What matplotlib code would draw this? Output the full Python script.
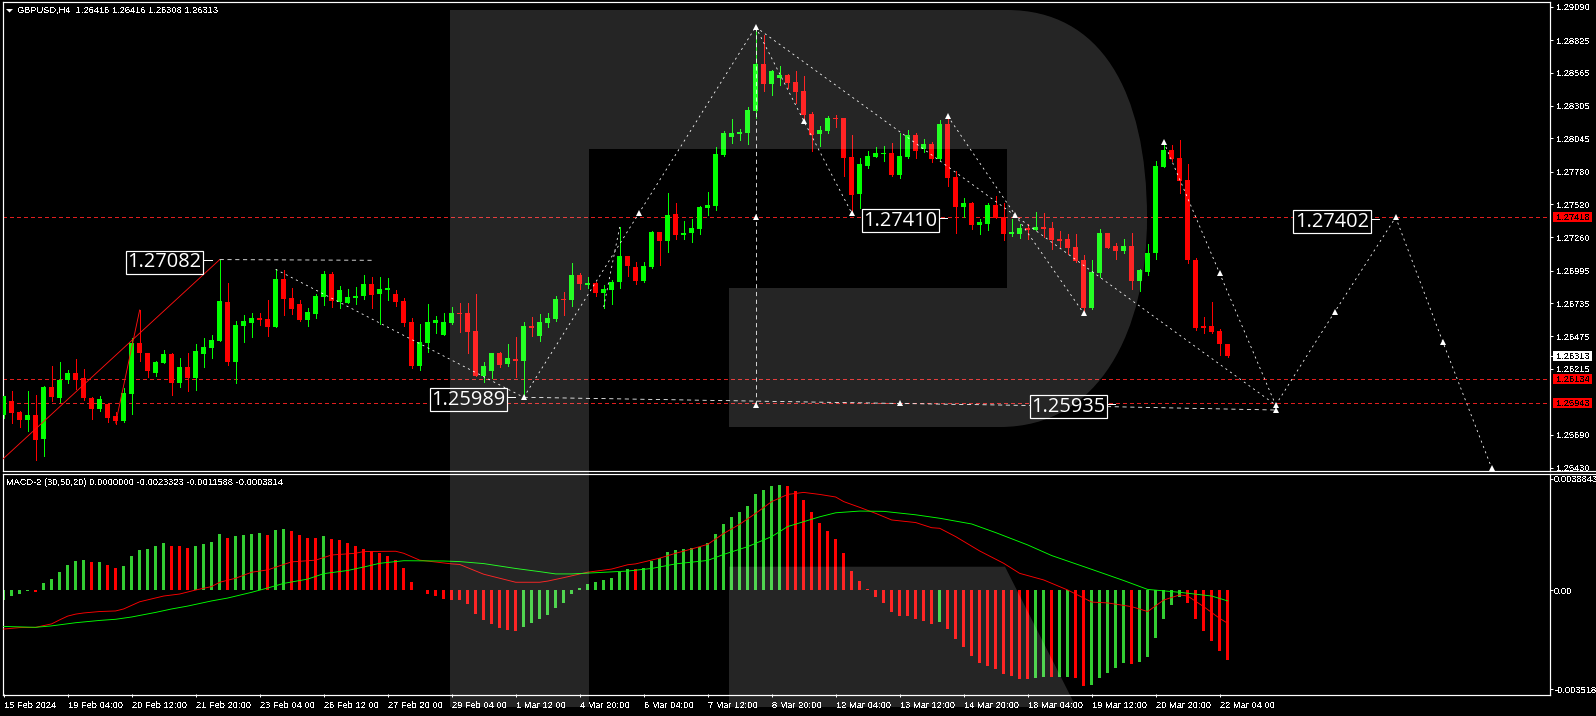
#!/usr/bin/python3
# GBPUSD H4 candles with wave forecast and MACD panel, drawn like a terminal screenshot

import matplotlib
matplotlib.use('Agg')
import matplotlib.pyplot as plt
from matplotlib.patches import PathPatch, Rectangle
from matplotlib.path import Path

opens = [
    1.25846, 1.25958, 1.25870, 1.25806, 1.25846, 1.25655, 1.26069, 1.25981, 1.26124, 1.26180,
    1.26140, 1.25987, 1.25894, 1.25936, 1.25838, 1.25799, 1.26013, 1.26419, 1.26339, 1.26180,
    1.26260, 1.26331, 1.26101, 1.26228, 1.26140, 1.26331, 1.26379, 1.26435, 1.26745, 1.26268,
    1.26554, 1.26578, 1.26617, 1.26609, 1.26546, 1.26927, 1.26776, 1.26729, 1.26601, 1.26649,
    1.26784, 1.26967, 1.26745, 1.26737, 1.26776, 1.26792, 1.26888, 1.26808, 1.26840, 1.26808,
    1.26753, 1.26586, 1.26236, 1.26419, 1.26578, 1.26482, 1.26578, 1.26657, 1.26657, 1.26514,
    1.26156, 1.26196, 1.26339, 1.26252, 1.26295, 1.26281, 1.26552, 1.26472, 1.26576, 1.26607,
    1.26766, 1.26758, 1.26957, 1.26878, 1.26894, 1.26814, 1.26838, 1.26902, 1.27108, 1.27021,
    1.26910, 1.27021, 1.27299, 1.27228, 1.27442, 1.27275, 1.27291, 1.27323, 1.27490, 1.27506,
    1.27911, 1.28054, 1.28078, 1.28086, 1.28261, 1.28635, 1.28476, 1.28523, 1.28547, 1.28492,
    1.28420, 1.28237, 1.28078, 1.28102, 1.28205, 1.28205, 1.27895, 1.27601, 1.27824, 1.27895,
    1.27922, 1.27927, 1.27752, 1.27895, 1.28070, 1.27959, 1.27999, 1.27879, 1.28158, 1.27736,
    1.27498, 1.27530, 1.27355, 1.27363, 1.27514, 1.27418, 1.27283, 1.27283, 1.27332, 1.27316,
    1.27340, 1.27332, 1.27244, 1.27244, 1.27181, 1.27077, 1.26696, 1.26974, 1.27292, 1.27189,
    1.27149, 1.27189, 1.26911, 1.26982, 1.27133, 1.27817, 1.27952, 1.27888, 1.27713, 1.27077,
    1.26553, 1.26553, 1.26513, 1.26416]
closes = [
    1.26000, 1.25862, 1.25806, 1.25846, 1.25647, 1.26069, 1.25989, 1.26130, 1.26180, 1.26127,
    1.25981, 1.25894, 1.25973, 1.25822, 1.25799, 1.26026, 1.26419, 1.26339, 1.26196, 1.26268,
    1.26331, 1.26101, 1.26228, 1.26140, 1.26355, 1.26387, 1.26442, 1.26753, 1.26268, 1.26562,
    1.26594, 1.26617, 1.26601, 1.26546, 1.26927, 1.26768, 1.26689, 1.26601, 1.26665, 1.26792,
    1.26967, 1.26753, 1.26840, 1.26784, 1.26792, 1.26888, 1.26800, 1.26848, 1.26856, 1.26745,
    1.26578, 1.26236, 1.26427, 1.26586, 1.26601, 1.26586, 1.26657, 1.26652, 1.26506, 1.26156,
    1.26236, 1.26339, 1.26244, 1.26299, 1.26281, 1.26552, 1.26536, 1.26584, 1.26615, 1.26766,
    1.26761, 1.26957, 1.26886, 1.26894, 1.26814, 1.26846, 1.26902, 1.27108, 1.27029, 1.26910,
    1.27029, 1.27299, 1.27228, 1.27434, 1.27275, 1.27291, 1.27331, 1.27498, 1.27514, 1.27919,
    1.28086, 1.28086, 1.28094, 1.28269, 1.28635, 1.28476, 1.28579, 1.28547, 1.28484, 1.28412,
    1.28229, 1.28070, 1.28110, 1.28205, 1.28200, 1.27887, 1.27593, 1.27840, 1.27903, 1.27927,
    1.27927, 1.27752, 1.27903, 1.28070, 1.27943, 1.27999, 1.27879, 1.28158, 1.27728, 1.27498,
    1.27530, 1.27355, 1.27379, 1.27514, 1.27410, 1.27283, 1.27299, 1.27331, 1.27319, 1.27340,
    1.27324, 1.27236, 1.27229, 1.27173, 1.27070, 1.26696, 1.26982, 1.27292, 1.27173, 1.27149,
    1.27189, 1.26911, 1.26998, 1.27133, 1.27825, 1.27952, 1.27880, 1.27706, 1.27077, 1.26537,
    1.26537, 1.26505, 1.26410, 1.26313]
highs = [
    1.26000, 1.26037, 1.25881, 1.26037, 1.26005, 1.26077, 1.26236, 1.26268, 1.26204, 1.26291,
    1.26212, 1.25995, 1.25997, 1.25942, 1.25875, 1.26061, 1.26458, 1.26681, 1.26344, 1.26276,
    1.26363, 1.26339, 1.26299, 1.26339, 1.26411, 1.26458, 1.26482, 1.27082, 1.26896, 1.26594,
    1.26641, 1.26657, 1.26657, 1.26760, 1.27007, 1.26999, 1.26856, 1.26760, 1.26697, 1.26808,
    1.26991, 1.26983, 1.26872, 1.26848, 1.26864, 1.26959, 1.26943, 1.26943, 1.26935, 1.26840,
    1.26776, 1.26617, 1.26570, 1.26729, 1.26633, 1.26657, 1.26705, 1.26737, 1.26737, 1.26808,
    1.26268, 1.26339, 1.26347, 1.26411, 1.26464, 1.26584, 1.26623, 1.26647, 1.26655, 1.26790,
    1.26822, 1.27053, 1.26973, 1.26941, 1.26902, 1.26878, 1.26917, 1.27339, 1.27108, 1.27061,
    1.27061, 1.27307, 1.27299, 1.27609, 1.27530, 1.27387, 1.27402, 1.27506, 1.27617, 1.27975,
    1.28102, 1.28197, 1.28118, 1.28293, 1.28929, 1.28865, 1.28587, 1.28619, 1.28555, 1.28579,
    1.28539, 1.28253, 1.28142, 1.28221, 1.28229, 1.28205, 1.28070, 1.27887, 1.27943, 1.27975,
    1.27983, 1.28007, 1.28086, 1.28110, 1.28086, 1.28038, 1.28015, 1.28189, 1.28229, 1.27784,
    1.27569, 1.27538, 1.27402, 1.27530, 1.27585, 1.27530, 1.27402, 1.27363, 1.27364, 1.27459,
    1.27451, 1.27380, 1.27308, 1.27284, 1.27284, 1.27117, 1.27077, 1.27324, 1.27292, 1.27213,
    1.27244, 1.27292, 1.27006, 1.27205, 1.27865, 1.28005, 1.27992, 1.28031, 1.27841, 1.27093,
    1.26624, 1.26744, 1.26529, 1.26416]
lows = [
    1.25825, 1.25783, 1.25751, 1.25719, 1.25488, 1.25520, 1.25958, 1.25950, 1.26101, 1.26053,
    1.25965, 1.25814, 1.25878, 1.25791, 1.25775, 1.25791, 1.25854, 1.26276, 1.26148, 1.26156,
    1.26260, 1.26005, 1.26069, 1.26037, 1.26045, 1.26228, 1.26299, 1.26435, 1.26244, 1.26101,
    1.26427, 1.26466, 1.26562, 1.26474, 1.26546, 1.26641, 1.26649, 1.26594, 1.26554, 1.26617,
    1.26721, 1.26705, 1.26697, 1.26737, 1.26729, 1.26768, 1.26697, 1.26570, 1.26760, 1.26713,
    1.26554, 1.26220, 1.26204, 1.26347, 1.26498, 1.26482, 1.26570, 1.26506, 1.26339, 1.26156,
    1.26109, 1.26140, 1.26228, 1.26236, 1.26154, 1.25989, 1.26472, 1.26433, 1.26544, 1.26592,
    1.26639, 1.26711, 1.26846, 1.26854, 1.26790, 1.26695, 1.26727, 1.26854, 1.26949, 1.26886,
    1.26902, 1.27013, 1.27037, 1.27140, 1.27243, 1.27243, 1.27220, 1.27283, 1.27434, 1.27474,
    1.27903, 1.28007, 1.28030, 1.27999, 1.28205, 1.28420, 1.28388, 1.28468, 1.28444, 1.28325,
    1.28189, 1.27943, 1.27983, 1.28086, 1.28134, 1.27744, 1.27466, 1.27490, 1.27808, 1.27895,
    1.27864, 1.27744, 1.27728, 1.27887, 1.27887, 1.27935, 1.27856, 1.27871, 1.27665, 1.27291,
    1.27418, 1.27323, 1.27283, 1.27315, 1.27410, 1.27235, 1.27267, 1.27251, 1.27244, 1.27316,
    1.27260, 1.27165, 1.27181, 1.27125, 1.27062, 1.26672, 1.26688, 1.26942, 1.27173, 1.27085,
    1.27133, 1.26847, 1.26831, 1.26958, 1.27085, 1.27817, 1.27865, 1.27610, 1.27054, 1.26521,
    1.26497, 1.26497, 1.26322, 1.26308]

# MACD histogram in units of 0.00001, one colour letter per bar
macd_hist = [
    -34, -21, -14, -2, -7, 24, 38, 63, 87, 101,
    104, 98, 98, 87, 77, 84, 118, 139, 143, 153,
    164, 153, 153, 146, 153, 160, 167, 195, 181, 188,
    192, 195, 199, 192, 209, 212, 205, 192, 181, 181,
    188, 178, 174, 164, 153, 143, 136, 129, 118, 104,
    77, 28, -1, -14, -21, -31, -35, -35, -49, -84,
    -104, -118, -132, -139, -143, -129, -115, -101, -87, -63,
    -45, -14, 7, 21, 28, 35, 42, 63, 73, 73,
    77, 101, 111, 132, 139, 143, 146, 150, 164, 195,
    230, 254, 272, 293, 334, 348, 362, 366, 362, 345,
    313, 272, 233, 205, 178, 129, 66, 31, 3, -24,
    -45, -77, -91, -91, -101, -108, -118, -111, -136, -171,
    -199, -230, -254, -265, -275, -293, -300, -310, -310, -307,
    -303, -303, -303, -303, -307, -334, -331, -307, -289, -272,
    -254, -258, -251, -233, -167, -101, -52, -24, -45, -101,
    -143, -178, -212, -244]
hist_colours = ('gggg' 'r' 'gggggg' 'r' 'g' 'rr' 'gggggg' 'rrr' 'gggg' 'r' 'gggg' 'r' 'gg' 'rrrr' 'g'
                + 'r' * 24 + 'g' * 14 + 'r' + 'g' * 18 + 'r' * 19 + 'g' + 'r' * 11
                + 'gg' 'r' 'gg' 'rr' 'ggggg' 'r' 'gggggg' 'rrrrrr')

macd_bars = [0, 2, 4, 6, 7, 8, 9, 10, 12, 14, 15, 17, 20, 22, 24, 26, 27, 29, 31, 33, 35, 36, 39, 41, 44,
             45, 49, 50, 52, 56, 57, 60, 62, 64, 67, 68, 70, 73, 76, 78, 79, 82, 84, 86, 88, 90, 92, 94,
             96, 98, 100, 102, 104, 105, 107, 109, 111, 114, 116, 117, 119, 122, 125, 127, 130, 133,
             136, 138, 141, 143, 145, 147, 148, 150, 152, 153]
macd_line = [-136, -131, -130, -118, -104, -91, -84, -80, -75, -73, -66, -41, -21, -14, 0, 12, 27, 41, 62, 70,
             89, 98, 104, 122, 128, 134, 135, 128, 104, 91, 89, 55, 41, 27, 27, 31, 43, 62, 73, 88, 91, 111,
             128, 143, 159, 197, 229, 267, 308, 333, 340, 333, 324, 308, 288, 267, 244, 235, 217, 215, 186,
             136, 93, 58, 35, 0, -42, -45, -58, -75, -35, -17, -21, -58, -99, -116]
signal_bars = [0, 4, 6, 9, 12, 14, 16, 19, 21, 23, 26, 28, 31, 33, 35, 38, 40, 43, 45, 47, 50, 55, 57, 60,
               64, 67, 69, 71, 78, 81, 84, 88, 90, 93, 96, 98, 102, 104, 107, 110, 114, 117, 121, 124,
               128, 131, 136, 140, 143, 147, 151, 153]
signal_line = [-127, -130, -125, -114, -106, -102, -94, -78, -66, -56, -38, -28, -8, 7, 23, 38, 57, 68, 80, 93,
               102, 101, 99, 92, 75, 64, 56, 56, 66, 75, 91, 103, 124, 151, 186, 221, 255, 269, 275, 274,
               262, 250, 230, 200, 157, 120, 72, 33, 2, -8, -21, -38]

price_ticks = [1.29090, 1.28825, 1.28565, 1.28305, 1.28045, 1.27780, 1.27520, 1.27260, 1.26995,
               1.26735, 1.26475, 1.26215, 1.25690, 1.25430]
date_labels = ['15 Feb 2024', '19 Feb 04:00', '20 Feb 12:00', '21 Feb 20:00', '23 Feb 04:00', '26 Feb 12:00',
               '27 Feb 20:00', '29 Feb 04:00', '1 Mar 12:00', '4 Mar 20:00', '6 Mar 04:00', '7 Mar 12:00',
               '8 Mar 20:00', '12 Mar 04:00', '13 Mar 12:00', '14 Mar 20:00', '18 Mar 04:00', '19 Mar 12:00',
               '20 Mar 20:00', '22 Mar 04:00']
level_lines = [1.27418, 1.26134, 1.25943]

# Wave drawings as (bar, price), the small arrow marks sit on these points
wave_segments = [
    [(34, 1.27005), (65, 1.25989)],
    [(65, 1.25989), (79.45, 1.27455), (94, 1.28929)],
    [(94, 1.28929), (100, 1.28185), (106, 1.27452)],
    [(94, 1.28929), (159, 1.25928)],
    [(118, 1.28222), (126.45, 1.27436), (135, 1.26656)],
    [(145, 1.28018), (152, 1.26973), (159, 1.25928)],
    [(75, 1.26706), (77, 1.27341)],
    [(159, 1.25928), (166.4, 1.26669), (174, 1.27418)],
    [(174, 1.27418), (179.9, 1.26428), (186, 1.25428)],
]
dashed_segments = [
    [(27, 1.27082), (46, 1.27077)],
    [(94, 1.28929), (94, 1.27423), (94, 1.25928)],
    [(65, 1.25989), (112, 1.25940), (138.8, 1.25914), (159, 1.25888)],
]
arrow_points = [(65, 1.25989), (79.45, 1.27455), (94, 1.28929), (94, 1.27423), (94, 1.25928), (100, 1.28185),
                (106, 1.27452), (118, 1.28222), (126.45, 1.27436), (135, 1.26656), (145, 1.28018),
                (152, 1.26973), (159, 1.25928), (159, 1.25888), (112, 1.25940), (166.4, 1.26669),
                (174, 1.27418), (179.9, 1.26428), (186, 1.25428)]
red_segments = [[(-0.1, 1.25499), (27, 1.27082)], [(14, 1.25785), (17, 1.26682)]]
wave_labels = [(20.13, 1.27082), (58.1, 1.25989), (112.1, 1.27410), (133.1, 1.25935), (166.05, 1.27402)]

WIDTH, HEIGHT = 1596, 716
PX = 72 / 100     # one pixel in points at dpi 100
BULL = '#00ff00'
BEAR = '#ff0000'
PANEL_LEFT, PANEL_RIGHT = 3, 1550
PRICE_PER_PX = 1 / 12596
SMALL_FONT = 6.7
plt.rcParams['font.family'] = ['Liberation Sans', 'DejaVu Sans']
plt.rcParams['lines.scale_dashes'] = False
plt.rcParams['text.antialiased'] = False


def panel(top, bottom):
    "Axes placed by pixel rows of the picture"
    ax = fig.add_axes([PANEL_LEFT / WIDTH, 1 - bottom / HEIGHT,
                       (PANEL_RIGHT - PANEL_LEFT) / WIDTH, (bottom - top) / HEIGHT])
    ax.set_facecolor('black')
    ax.set_xlim(-0.084, 193.29)
    for spine in ax.spines.values():
        spine.set_color('white')
        spine.set_linewidth(PX * 1.2)
    ax.yaxis.tick_right()
    ax.tick_params(axis='y', colors='white', length=3 * PX, width=PX, pad=2.6, labelsize=SMALL_FONT)
    return ax


def line(ax, points, colour='white', dashes=(1.5, 2.6), **kw):
    xs = [p[0] for p in points]
    ys = [p[1] for p in points]
    ax.plot(xs, ys, color=colour, lw=PX * 0.8, dashes=dashes, **kw)


def price_tag(ax, price, text, back, fore='black'):
    "Small tag in the price scale at the right of the panel"
    trans = ax.get_yaxis_transform()
    ax.add_patch(Rectangle((1 + 3 / 1547, price - 5 * PRICE_PER_PX), 39 / 1547, 10 * PRICE_PER_PX,
                           transform=trans, clip_on=False, facecolor=back, edgecolor='none', zorder=6))
    ax.text(1 + 6.7 / 1547, price, text, transform=trans, color=fore, fontsize=SMALL_FONT,
            va='center', ha='left', clip_on=False, zorder=7)


fig = plt.figure(figsize=(WIDTH / 100, HEIGHT / 100), dpi=100, facecolor='black')

# Price panel
ax = panel(2.3, 471)
ax.set_ylim(1.29090 - (471 - 6.7) * PRICE_PER_PX, 1.29090 + 4.4 * PRICE_PER_PX)

bars = list(range(len(opens)))
ax.vlines(bars, lows, highs,
          colors=[BULL if c >= o else BEAR for o, c in zip(opens, closes)],
          linewidth=PX, antialiased=False, zorder=2)
for i in bars:
    body = max(abs(closes[i] - opens[i]), 1.2 * PRICE_PER_PX)
    ax.bar(i, body, bottom=min(opens[i], closes[i]), width=0.625, linewidth=0, antialiased=False,
           color=BULL if closes[i] >= opens[i] else BEAR, zorder=3)

for level in level_lines:
    ax.axhline(level, color='#e01e1e', lw=PX, dashes=(2.6, 2.2), antialiased=False, zorder=1)
for seg in red_segments:
    ax.plot([p[0] for p in seg], [p[1] for p in seg], color='#ff1010', lw=PX * 0.9, zorder=4)
for seg in wave_segments:
    line(ax, seg, zorder=5)
for seg in dashed_segments:
    line(ax, seg, dashes=(3.0, 2.6), zorder=5)
ax.plot([p[0] for p in arrow_points], [p[1] for p in arrow_points], linestyle='none', marker='^',
        markersize=4.4, color='white', markeredgewidth=0, zorder=5)

for bar, price in wave_labels:
    ax.text(bar, price, '%.5f' % price, color='white', fontsize=14.4, family='Open Sans', ha='center',
            va='center_baseline', zorder=8, antialiased=True,
            bbox=dict(boxstyle='square,pad=0.08', facecolor='black', edgecolor='white', linewidth=PX * 1.2))
    ax.plot([bar + 37 / 8, bar + 47 / 8], [price, price], color='white', lw=PX, antialiased=False, zorder=7)

ax.set_yticks(price_ticks + [closes[-1]])
ax.set_yticklabels(['%.5f' % p for p in price_ticks] + [''])
ax.set_xticks([])
price_tag(ax, level_lines[0], '1.27418', '#ff0000')
price_tag(ax, level_lines[1], '1.26134', '#ff0000')
price_tag(ax, level_lines[2], '1.25943', '#ff0000')
price_tag(ax, closes[-1], '%.5f' % closes[-1], 'white')

# MACD panel, values in price units
macd = panel(473.7, 695.3)
SCALE = 1e-5
PX_MACD = 3.484e-5
macd.set_ylim(-(695.3 - 590) * PX_MACD, (590 - 473.7) * PX_MACD)
macd.bar(bars, [v * SCALE for v in macd_hist], width=0.375, linewidth=0, antialiased=False,
         color=['#32cd32' if c == 'g' else BEAR for c in hist_colours], zorder=2)
macd.plot(macd_bars, [v * SCALE for v in macd_line], color=BEAR, lw=PX * 0.9, zorder=3)
macd.plot(signal_bars, [v * SCALE for v in signal_line], color=BULL, lw=PX * 0.9, zorder=3)
macd.set_yticks([0.0038843, 0, -0.00345])
macd.set_yticklabels(['0.0038843', '0.00', '-0.003518'])
macd.tick_params(axis='y', pad=0.8)

tick_bars = bars[::8]
macd.set_xticks(tick_bars)
macd.set_xticklabels(date_labels, ha='left', fontsize=SMALL_FONT)
macd.tick_params(axis='x', colors='white', length=3 * PX, width=PX, pad=3.2, direction='inout')

# Header texts
fig.text(17.3 / WIDTH, 1 - 10.7 / HEIGHT, 'GBPUSD,H4  1.26416 1.26416 1.26308 1.26313', color='white',
         fontsize=SMALL_FONT, va='center', ha='left')
fig.text(6.5 / WIDTH, 1 - 482.7 / HEIGHT, 'MACD-2 (30,50,20) 0.0000000 -0.0023323 -0.0011588 -0.0003814',
         color='white', fontsize=SMALL_FONT, va='center', ha='left')

# Overlay in picture pixels: title arrow, panel rules and the watermark on top of everything
over = fig.add_axes([0, 0, 1, 1], zorder=5)
over.set_xlim(0, WIDTH)
over.set_ylim(HEIGHT, 0)
over.axis('off')
over.patch.set_alpha(0)
over.fill([6, 13, 9.5], [9, 9, 12.5], color='white', lw=0)
over.plot([PANEL_RIGHT, WIDTH], [471, 471], color='white', lw=PX * 1.2)
over.plot([PANEL_RIGHT, WIDTH], [473.7, 473.7], color='white', lw=PX * 1.2)

M, L, C, Z = Path.MOVETO, Path.LINETO, Path.CURVE4, Path.CLOSEPOLY
stem = Path([(450, 10), (1007, 10), (1100, 10), (1147, 90), (1147, 218), (1147, 330), (1100, 427), (1000, 427),
             (729, 427), (729, 288), (1007, 288), (1007, 149), (589, 149), (589, 707), (450, 707), (450, 10)],
            [M, L, C, C, C, C, C, C, L, L, L, L, L, L, L, Z])
leg = Path([(729, 566.7), (1005, 566.7), (1070, 695), (1076, 707), (729, 707), (729, 566.7)],
           [M, L, L, L, L, Z])
for shape in (stem, leg):
    over.add_patch(PathPatch(shape, facecolor='white', edgecolor='none', alpha=0.15))

fig.savefig('out.png', dpi=100, facecolor='black')
